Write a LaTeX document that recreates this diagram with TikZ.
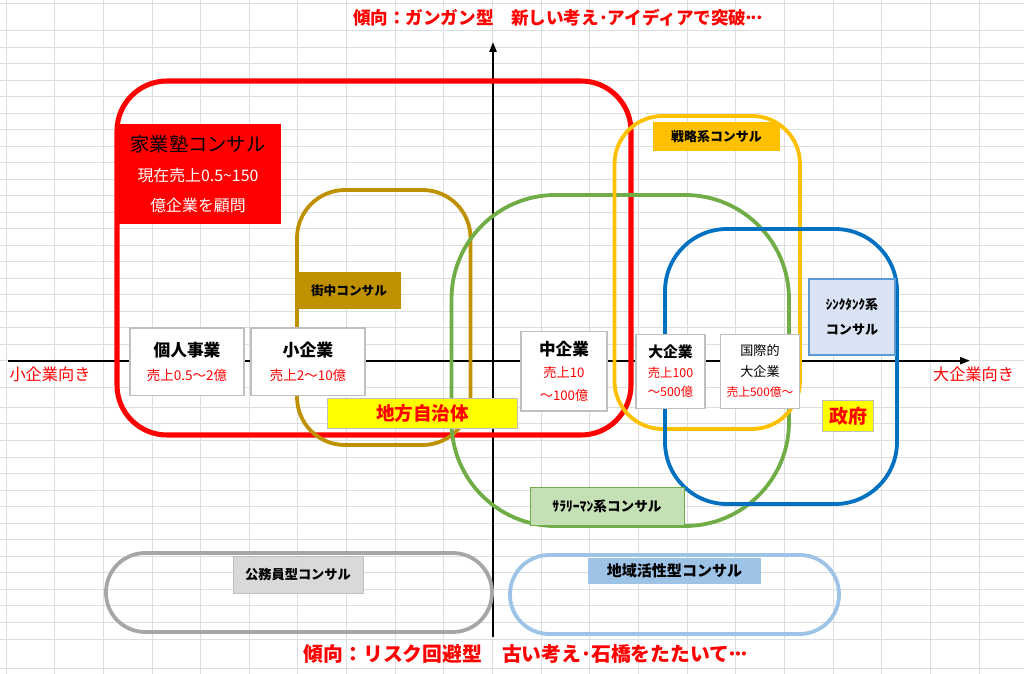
\documentclass[tikz,border=0pt]{standalone}
\usepackage{fontspec}
\setmainfont{Noto Sans CJK JP}
\usetikzlibrary{arrows.meta}
\definecolor{exred}{HTML}{FF0000}
\definecolor{gold}{HTML}{BF9000}
\definecolor{leaf}{HTML}{70AD47}
\definecolor{leafpale}{HTML}{C5E0B4}
\definecolor{amber}{HTML}{FFC000}
\definecolor{ocean}{HTML}{0070C0}
\definecolor{sky}{HTML}{9DC3E6}
\definecolor{mist}{HTML}{DAE3F3}
\definecolor{mistedge}{HTML}{5B9BD5}
\definecolor{stone}{HTML}{A6A6A6}
\definecolor{silver}{HTML}{D9D9D9}
\definecolor{boxedge}{HTML}{BFBFBF}
\definecolor{cellgrid}{HTML}{DDDDDD}
\definecolor{lemon}{HTML}{FFFF00}

\begin{document}
\begin{tikzpicture}[x=0.025cm, y=-0.025cm,
    gridline/.style={cellgrid, line width=0.6pt},
    axis/.style={black, line width=1.4pt},
    zone/.style={line width=2.7pt, rounded corners=#1},
    tag/.style={inner sep=0pt, align=center, font=\bfseries\fontsize{9.2}{11}\selectfont},
    box/.style={draw=boxedge, fill=white, line width=1pt, inner sep=0pt, align=center}]
  \fill[white] (0,0) rectangle (1024,674);
  \useasboundingbox (0,0) rectangle (1024,674);
  % sheet grid
  \foreach \k in {0,...,21}
    \draw[gridline] ({6+48.65*\k},0) -- ({6+48.65*\k},674);
  \foreach \y in {3,360.7,387.3,668.7}
    \draw[gridline] (0,\y) -- (1024,\y);
  \foreach \k in {0,...,19}
    \draw[gridline] (0,{30.7+16.5*\k}) -- (1024,{30.7+16.5*\k});
  \foreach \k in {0,...,14}
    \draw[gridline] (0,{407.3+16.55*\k}) -- (1024,{407.3+16.55*\k});
  % axes
  \coordinate (xl) at (8,360.7);
  \coordinate (xr) at (970,360.7);
  \coordinate (yb) at (493,637);
  \coordinate (yt) at (493,42);
  \draw[axis, -{Triangle[length=7pt, width=5pt]}] (xl) -- (xr);
  \draw[axis, -{Triangle[length=7pt, width=5pt]}] (yb) -- (yt);
  \node[text=exred, font=\fontsize{11.5}{13}\selectfont] (small) at (50,374) {小企業向き};
  \node[text=exred, font=\fontsize{11.5}{13}\selectfont] (large) at (973.5,374) {大企業向き};
  \node[text=exred, font=\bfseries\fontsize{12.5}{14}\selectfont] (toptrend) at (558.5,18)
    {傾向：ガンガン型　新しい考え･アイディアで突破\kern-.1em･\kern-.2em･\kern-.2em･};
  \node[text=exred, font=\bfseries\fontsize{14.1}{16}\selectfont] (lowtrend) at (526.5,654)
    {傾向：リスク回避型　古い考え･石橋をたたいて\kern-.1em･\kern-.2em･\kern-.2em･};
  % consultant zones
  \draw[zone=1.25cm, exred, line width=3.6pt] (117,81) rectangle (631,435);
  \draw[zone=1.2cm, gold] (297,190) rectangle (470.5,445);
  \draw[zone=2.6cm, leaf] (451.5,195) rectangle (789,526);
  \draw[zone=1.2cm, amber] (614.5,116) rectangle (800,429);
  \draw[zone=1.55cm, ocean] (665,229) rectangle (897,504);
  \draw[zone=0.98cm, stone] (106,553) rectangle (492,632);
  \draw[zone=0.98cm, sky] (510,555) rectangle (839,634);
  % zone labels
  \node[tag, fill=exred, minimum width=4.15cm, minimum height=2.5cm,
        font=\fontsize{11.3}{21.5}\selectfont] (kagyo) at (198,174)
    {{\color{black}\fontsize{13.7}{16}\selectfont 家業塾コンサル}\\
     {\color{white}現在売上0.5\textasciitilde150}\\
     {\color{white}億企業を顧問}};
  \node[tag, fill=gold, minimum width=2.6cm, minimum height=0.925cm,
        font=\bfseries\fontsize{9}{11}\selectfont] (machinaka) at (349,290.5) {街中コンサル};
  \node[tag, fill=amber, minimum width=3.175cm, minimum height=0.725cm] (senryaku) at (716.5,136.5) {戦略系コンサル};
  \node[tag, fill=leafpale, draw=leaf, line width=0.6pt, minimum width=3.85cm, minimum height=0.95cm,
        font=\bfseries\fontsize{9.7}{11}\selectfont] (salary) at (607,506) {ｻﾗﾘｰﾏﾝ系コンサル};
  \node[tag, fill=mist, draw=mistedge, line width=0.8pt, minimum width=2.15cm, minimum height=1.9cm,
        font=\bfseries\fontsize{9.3}{17.3}\selectfont] (thinktank) at (852,317) {ｼﾝｸﾀﾝｸ系\\コンサル};
  \node[tag, fill=silver, draw=boxedge, line width=0.6pt, minimum width=3.25cm, minimum height=0.925cm,
        font=\bfseries\fontsize{9.4}{11}\selectfont] (komuin) at (298,574.5) {公務員型コンサル};
  \node[tag, fill=sky, minimum width=4.325cm, minimum height=0.65cm,
        font=\bfseries\fontsize{10.7}{12}\selectfont] (chiiki) at (674.5,571) {地域活性型コンサル};
  \node[tag, fill=lemon, draw=boxedge, line width=0.6pt, minimum width=4.75cm, minimum height=0.75cm,
        text=exred, font=\bfseries\fontsize{13.2}{15}\selectfont] (jichitai) at (422.5,413) {地方自治体};
  \node[tag, fill=lemon, draw=boxedge, line width=0.6pt, minimum width=1.26cm, minimum height=0.76cm,
        text=exred, font=\bfseries\fontsize{13.5}{15}\selectfont] (seifu) at (848,416) {政府};
  % company sizes
  \node[box, minimum width=2.85cm, minimum height=1.675cm, font=\fontsize{9.6}{17}\selectfont] (kojin) at (187,361.7)
    {{\bfseries\fontsize{11.9}{14}\selectfont 個人事業}\\{\color{exred}売上0.5～2億}};
  \node[box, minimum width=2.85cm, minimum height=1.675cm, font=\fontsize{9.6}{17}\selectfont] (sho) at (308,361.7)
    {{\bfseries\fontsize{12}{14}\selectfont 小企業}\\{\color{exred}売上2～10億}};
  \node[box, minimum width=2.15cm, minimum height=1.98cm, font=\fontsize{9.4}{16.2}\selectfont] (chu) at (564,371.3)
    {{\bfseries\fontsize{11.8}{14}\selectfont 中企業}\\{\color{exred}売上10}\\{\color{exred}～100億}};
  \node[box, minimum width=1.725cm, minimum height=1.85cm, font=\fontsize{8.8}{14}\selectfont] (dai) at (670.5,371.3)
    {{\bfseries\fontsize{10.5}{12}\selectfont 大企業}\\{\color{exred}売上100}\\{\color{exred}～500億}};
  \node[box, minimum width=1.965cm, minimum height=1.85cm, font=\fontsize{9.3}{14.5}\selectfont] (kokusai) at (760,371.3)
    {国際的\\大企業\\{\color{exred}\fontsize{8.4}{10}\selectfont 売上500億～}};
\end{tikzpicture}
\end{document}
